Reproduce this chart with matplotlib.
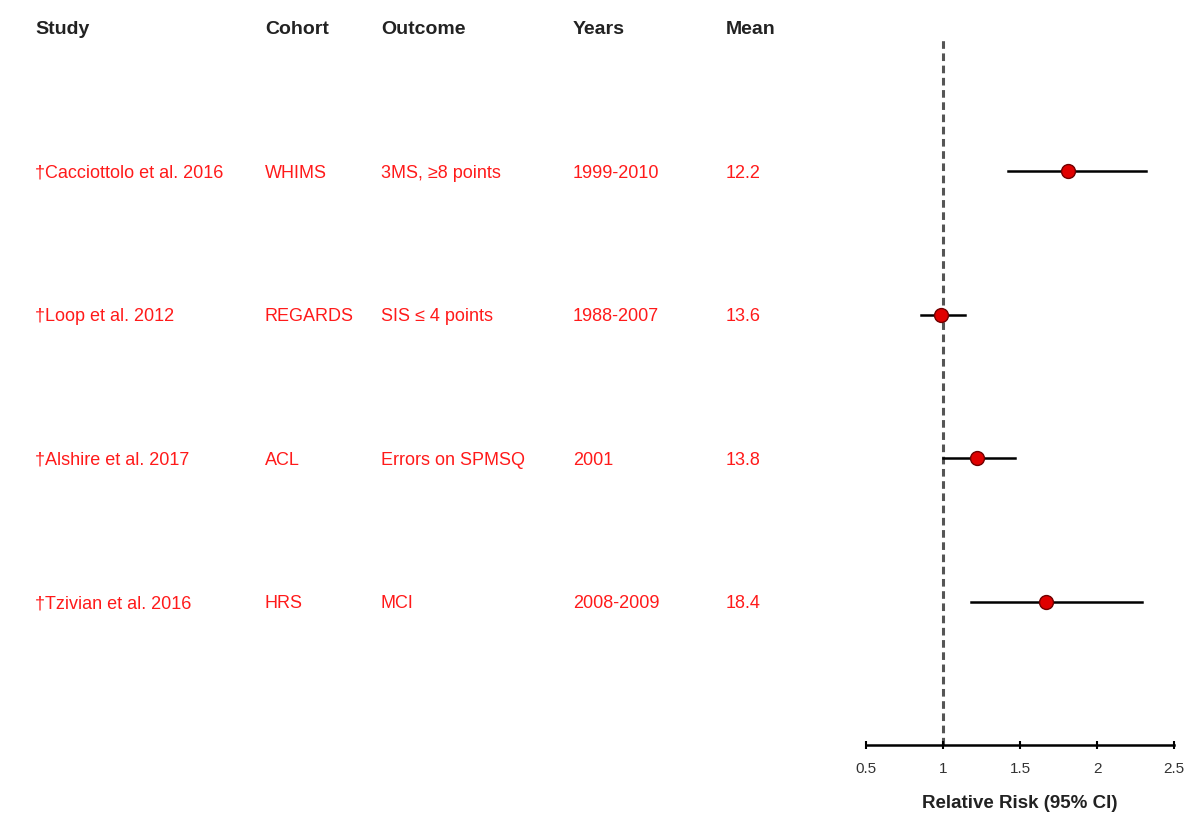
import matplotlib.pyplot as plt
from matplotlib.transforms import blended_transform_factory

plt.rcParams['font.family'] = ['Liberation Sans', 'DejaVu Sans']

# data
studies = ["\u2020Cacciottolo et al. 2016", "\u2020Loop et al. 2012",
           "\u2020Alshire et al. 2017", "\u2020Tzivian et al. 2016"]
cohorts = ["WHIMS", "REGARDS", "ACL", "HRS"]
outcomes = ["3MS, \u22658 points", "SIS \u2264 4 points", "Errors on SPMSQ", "MCI"]
years = ["1999-2010", "1988-2007", "2001", "2008-2009"]
means = ["12.2", "13.6", "13.8", "18.4"]
rr = [1.81, 0.985, 1.22, 1.67]
ci_low = [1.42, 0.86, 1.00, 1.18]
ci_high = [2.32, 1.14, 1.47, 2.29]

headers = ["Study", "Cohort", "Outcome", "Years", "Mean"]
header_x = [35, 265, 381, 573, 726]  # pixel positions of columns

W, H = 1189, 819
fig = plt.figure(figsize=(W / 100, H / 100), dpi=100)
ax = fig.add_axes([866 / W, (H - 745) / H, 308 / W, (745 - 38) / H])

ypos = [4, 3, 2, 1]
for i in range(len(rr)):
    ax.plot([ci_low[i], ci_high[i]], [ypos[i], ypos[i]], color='black', lw=1.8, zorder=2)
ax.plot(rr, ypos, 'o', markersize=10, markerfacecolor='#e00000',
        markeredgecolor='#700000', markeredgewidth=1, zorder=3)
ax.axvline(1, color='#555555', lw=2.2, ls=(0, (2.5, 1.5)), zorder=1)

ax.set_xlim(0.5, 2.5)
ax.set_ylim(0, 4.93)
ax.set_xticks([0.5, 1, 1.5, 2, 2.5])
ax.set_xticklabels(["0.5", "1", "1.5", "2", "2.5"])
ax.tick_params(axis='x', labelsize=11, direction='inout', length=6, width=1.5, pad=9,
               labelcolor='#333333')
ax.set_yticks([])
for s in ['top', 'right', 'left']:
    ax.spines[s].set_visible(False)
ax.spines['bottom'].set_linewidth(1.8)
ax.set_xlabel("Relative Risk (95% CI)", fontsize=13.5, fontweight='bold', labelpad=14,
              color='#222222')

# table text
trans = blended_transform_factory(fig.transFigure, ax.transData)
for hx, h in zip(header_x, headers):
    fig.text(hx / W, 1 - 29 / H, h, fontsize=14, fontweight='bold', va='center', ha='left',
             color='#222222')

columns = [studies, cohorts, outcomes, years, means]
for hx, col in zip(header_x, columns):
    for y, val in zip(ypos, col):
        fig.text(hx / W, y - 0.045, val, transform=trans, fontsize=13, color='#ff1a1a',
                 va='baseline', ha='left')

fig.savefig("out.png", dpi=100)
